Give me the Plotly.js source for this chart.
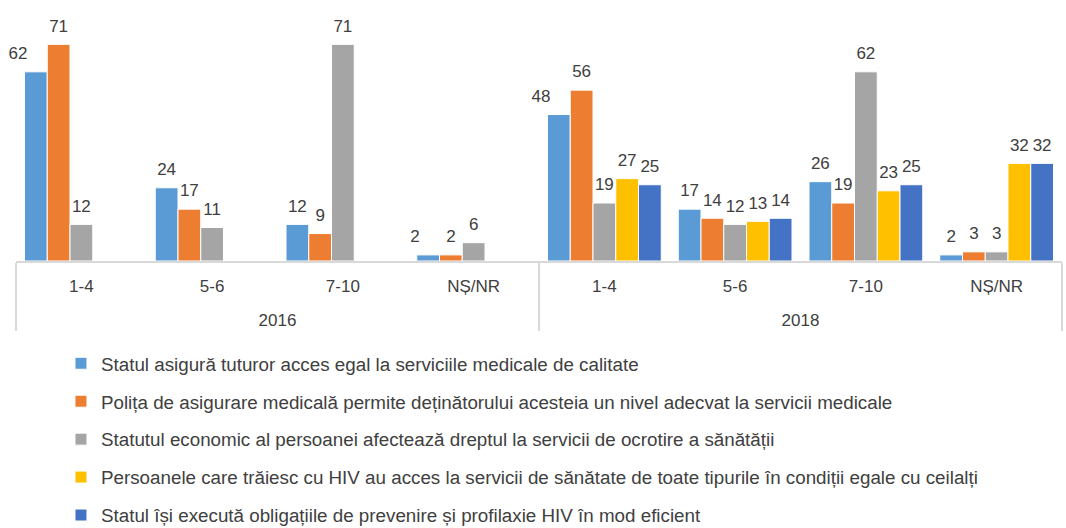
<!DOCTYPE html>
<html>
<head>
<meta charset="utf-8">
<script src="https://cdn.plot.ly/plotly-3.0.1.min.js"></script>
<style>html,body{margin:0;padding:0;background:#fff;}#chart{width:1066px;height:528px;}</style>
</head>
<body>
<div id="chart"></div>
<script>
// ---- data ----
const years = ['2016','2016','2016','2016','2018','2018','2018','2018'];
const groups = ['1-4','5-6','7-10','NȘ/NR','1-4','5-6','7-10','NȘ/NR'];
const seriesNames = [
  'Statul asigură tuturor acces egal la serviciile medicale de calitate',
  'Polița de asigurare medicală permite deținătorului acesteia un nivel adecvat la servicii medicale',
  'Statutul economic al persoanei afectează dreptul la servicii de ocrotire a sănătății',
  'Persoanele care trăiesc cu HIV au acces la servicii de sănătate de toate tipurile în condiții egale cu ceilalți',
  'Statul își execută obligațiile de prevenire și profilaxie HIV în mod eficient'
];
const s1 = [62, 24, 12, 2, 48, 17, 26, 2];
const s2 = [71, 17, 9, 2, 56, 14, 19, 3];
const s3 = [12, 11, 71, 6, 19, 12, 62, 3];
const s4 = [null, null, null, null, 27, 13, 23, 32];
const s5 = [null, null, null, null, 25, 14, 25, 32];

// ---- styles ----
const colors = ['#5B9BD5', '#ED7D31', '#A5A5A5', '#FFC000', '#4472C4'];
const labelPos = [
  ['top left','top center','top center','top left','top left','top center','top center','top center'],
  null, null, null, null
];
const FONT = 'Liberation Sans, Arial, sans-serif';
const TXT = '#404040';

const allSeries = [s1, s2, s3, s4, s5];
// extra empty line under each group label to space the two label levels like the original
const x = [years, groups.map(g => g + '<br>\u00a0')];
const traces = [];
allSeries.forEach((vals, i) => {
  traces.push({
    type: 'bar', x: x, y: vals, name: seriesNames[i],
    marker: {color: colors[i], line: {color: '#ffffff', width: 1}},
    offsetgroup: 'g' + i, legendgroup: 'g' + i,
    hoverinfo: 'y'
  });
});
allSeries.forEach((vals, i) => {
  traces.push({
    type: 'scatter', mode: 'markers+text', x: x, y: vals,
    text: vals.map(v => v == null ? '' : String(v)),
    textposition: labelPos[i] || 'top center',
    textfont: {family: FONT, size: 17, color: TXT},
    marker: {size: 12, opacity: 0, color: colors[i]},
    offsetgroup: 'g' + i, showlegend: false, hoverinfo: 'skip', cliponaxis: false
  });
});

const layout = {
  width: 1066, height: 528,
  margin: {l: 16, r: 4, t: 23, b: 267, autoexpand: false},
  paper_bgcolor: '#ffffff', plot_bgcolor: '#ffffff',
  barmode: 'group', bargap: 0.13, bargroupgap: 0,
  scattermode: 'group', scattergap: 0.13,
  font: {family: FONT, size: 17, color: TXT},
  showlegend: true,
  legend: {
    orientation: 'v', x: 0.043, xanchor: 'left', y: -0.351, yanchor: 'top',
    font: {family: FONT, size: 18.8, color: TXT},
    traceorder: 'grouped', tracegroupgap: 10.5,
    itemwidth: 30, bgcolor: 'rgba(0,0,0,0)'
  },
  xaxis: {
    type: 'multicategory',
    showline: true, linecolor: '#d9d9d9', linewidth: 1.5,
    ticks: '', showgrid: false, zeroline: false,
    showdividers: true, dividercolor: '#d9d9d9', dividerwidth: 1.5,
    ticklabelstandoff: 9,
    tickfont: {family: FONT, size: 17, color: TXT}
  },
  yaxis: {
    range: [0, 78], showgrid: false, zeroline: false, showline: false,
    showticklabels: false, ticks: ''
  }
};

Plotly.newPlot('chart', traces, layout, {displayModeBar: false, staticPlot: true});
</script>
</body>
</html>
